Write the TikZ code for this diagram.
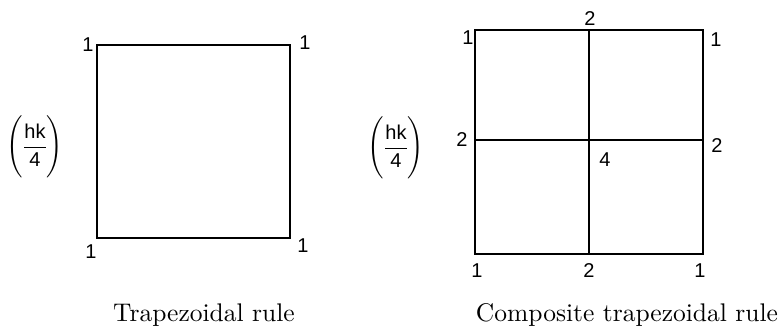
\documentclass[tikz,border=0pt]{standalone}
\usepackage{amsmath}
\usepackage{fontspec}
\setsansfont{Liberation Sans}
\newfontfamily\capfont{lmroman10-regular.otf}
\usetikzlibrary{positioning}

\newcommand{\hkquarter}{$\displaystyle\left(\vphantom{\rule[-26pt]{0pt}{36pt}}
  \frac{\text{\sffamily hk}}{\text{\sffamily 4}}\right)$}

\begin{document}
\begin{tikzpicture}[x=1pt,y=-1pt,
    wt/.style={font=\sffamily\fontsize{20}{24}\selectfont,inner sep=0pt},
    coef/.style={font=\fontsize{20}{24}\selectfont,inner sep=0pt},
    caption/.style={font=\capfont\fontsize{25.5}{30}\selectfont,inner sep=0pt,anchor=base},
    grid line/.style={line width=1.1pt}]
  \useasboundingbox (0,0) rectangle (783,326);

  % 台形公式（左）
  \coordinate (Ltl) at (97,45);
  \coordinate (Ltr) at (290,45);
  \coordinate (Lbl) at (97,238);
  \coordinate (Lbr) at (290,238);
  \draw[grid line] (Ltl) -- (Ltr) -- (Lbr) -- (Lbl) -- cycle;

  % 重み
  \node[wt] (wLtl) at (88,45) {1};
  \node[wt] (wLtr) at (305,43) {1};
  \node[wt] (wLbl) at (91,252) {1};
  \node[wt] (wLbr) at (303,246) {1};
  \node[coef] (cL) at (35,147) {\hkquarter};

  % 複合台形公式（右）
  \coordinate (Rtl) at (475,30);
  \coordinate (Rtm) at (589,30);
  \coordinate (Rtr) at (703,30);
  \coordinate (Rml) at (475,140);
  \coordinate (Rmr) at (703,140);
  \coordinate (Rbl) at (475,254);
  \coordinate (Rbm) at (589,254);
  \coordinate (Rbr) at (703,254);
  \draw[grid line] (Rtl) -- (Rtr) -- (Rbr) -- (Rbl) -- cycle;
  \draw[grid line] (Rtm) -- (Rbm);
  \draw[grid line] (Rml) -- (Rmr);

  % 重み
  \node[wt] (wRtl) at (468,38) {1};
  \node[wt] (wRtm) at (590,19) {2};
  \node[wt] (wRtr) at (716,40) {1};
  \node[wt] (wRml) at (462,140) {2};
  \node[wt] (wRmm) at (605,160) {4};
  \node[wt] (wRmr) at (717,146) {2};
  \node[wt] (wRbl) at (477,271) {1};
  \node[wt] (wRbm) at (589,271) {2};
  \node[wt] (wRbr) at (700,271) {1};
  \node[coef] (cR) at (396,148) {\hkquarter};

  % 見出し
  \node[caption] (capL) at (204,321) {Trapezoidal rule};
  \node[caption] (capR) at (627,321) {Composite trapezoidal rule};
\end{tikzpicture}
\end{document}
